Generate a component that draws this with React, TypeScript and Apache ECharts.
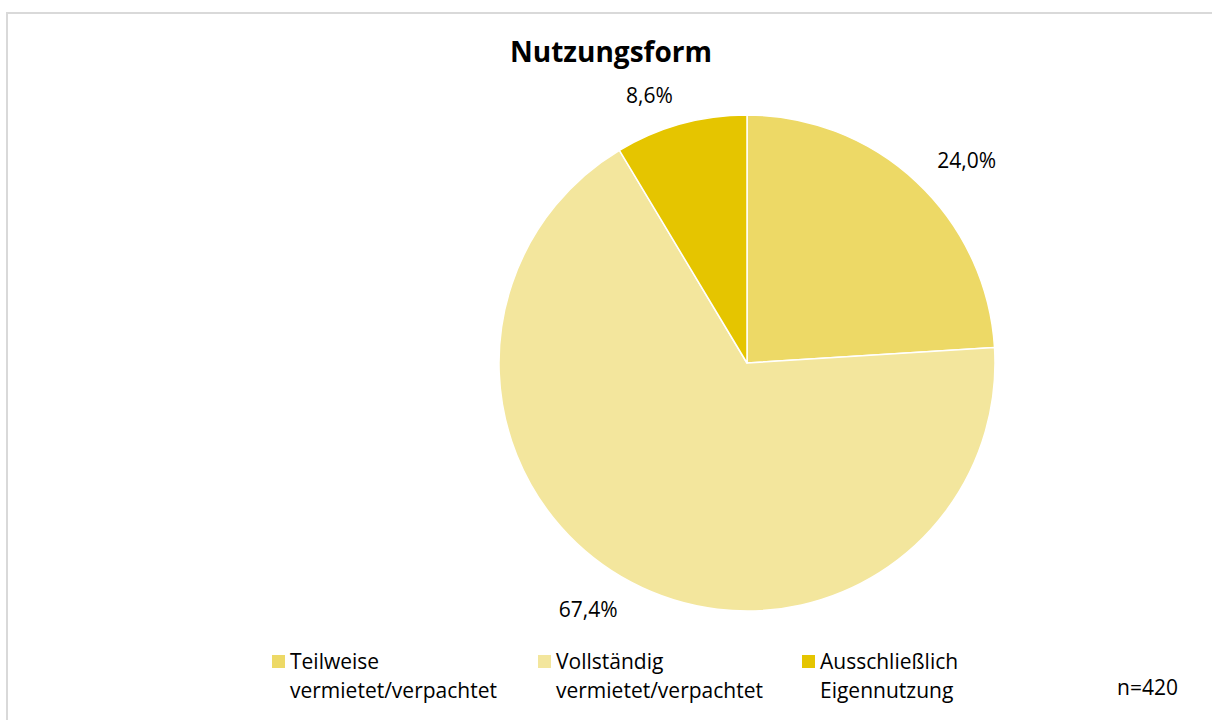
import React, { useEffect, useRef } from "react";
import * as echarts from "echarts";

const categories = [
  "Teilweise\nvermietet/verpachtet",
  "Vollständig\nvermietet/verpachtet",
  "Ausschließlich\nEigennutzung",
];
const values = [24.0, 67.4, 8.6];
const colors = ["#EDD966", "#F3E69D", "#E5C500"];
const legendLeft = [272, 538, 802];
const titleText = "Nutzungsform";
const noteText = "n=420";

const FONT = "'Open Sans', 'DejaVu Sans', sans-serif";

export default function App() {
  const ref = useRef<HTMLDivElement>(null);
  useEffect(() => {
    if (!ref.current) return;
    const chart = echarts.init(ref.current, undefined, { renderer: "svg" });
    const legendGraphics: any[] = [];
    categories.forEach((c, i) => {
      legendGraphics.push({
        type: "rect",
        shape: { x: legendLeft[i], y: 655, width: 13, height: 13 },
        style: { fill: colors[i] },
        silent: true,
      });
      legendGraphics.push({
        type: "text",
        x: legendLeft[i] + 18,
        y: 646,
        style: {
          text: c,
          fontFamily: FONT,
          fontSize: 21,
          lineHeight: 29,
          fill: "#000",
        },
        silent: true,
      });
    });
    chart.setOption({
      animation: false,
      backgroundColor: "#ffffff",
      title: {
        text: titleText,
        left: 606,
        top: 32,
        textAlign: "center",
        textStyle: { fontFamily: FONT, fontSize: 28, fontWeight: "bold", color: "#000" },
      },
      graphic: [
        {
          type: "rect",
          shape: { x: 7, y: 13, width: 1400, height: 1000 },
          style: { fill: "none", stroke: "#d9d9d9", lineWidth: 2 },
          silent: true,
        },
        ...legendGraphics,
        {
          type: "text",
          right: 1212 - 1178,
          top: 676,
          style: { text: noteText, fontFamily: FONT, fontSize: 21, fill: "#000" },
        },
      ],
      series: [
        {
          type: "pie",
          center: [747, 363],
          radius: 248,
          startAngle: 90,
          clockwise: true,
          avoidLabelOverlap: false,
          itemStyle: { borderColor: "#ffffff", borderWidth: 1.5 },
          label: {
            show: true,
            position: "outside",
            fontFamily: FONT,
            fontSize: 21,
            color: "#000",
            distanceToLabelLine: 0,
            formatter: (p: any) => p.value.toFixed(1).replace(".", ",") + "%",
          },
          labelLine: { show: false, length: 30, length2: 0 },
          emphasis: { disabled: true },
          data: categories.map((c, i) => ({
            name: c,
            value: values[i],
            itemStyle: { color: colors[i] },
          })),
        },
      ],
    });
    return () => chart.dispose();
  }, []);
  return (
    <div
      ref={ref}
      style={{ position: "fixed", left: 0, top: 0, width: 1212, height: 720 }}
    />
  );
}
